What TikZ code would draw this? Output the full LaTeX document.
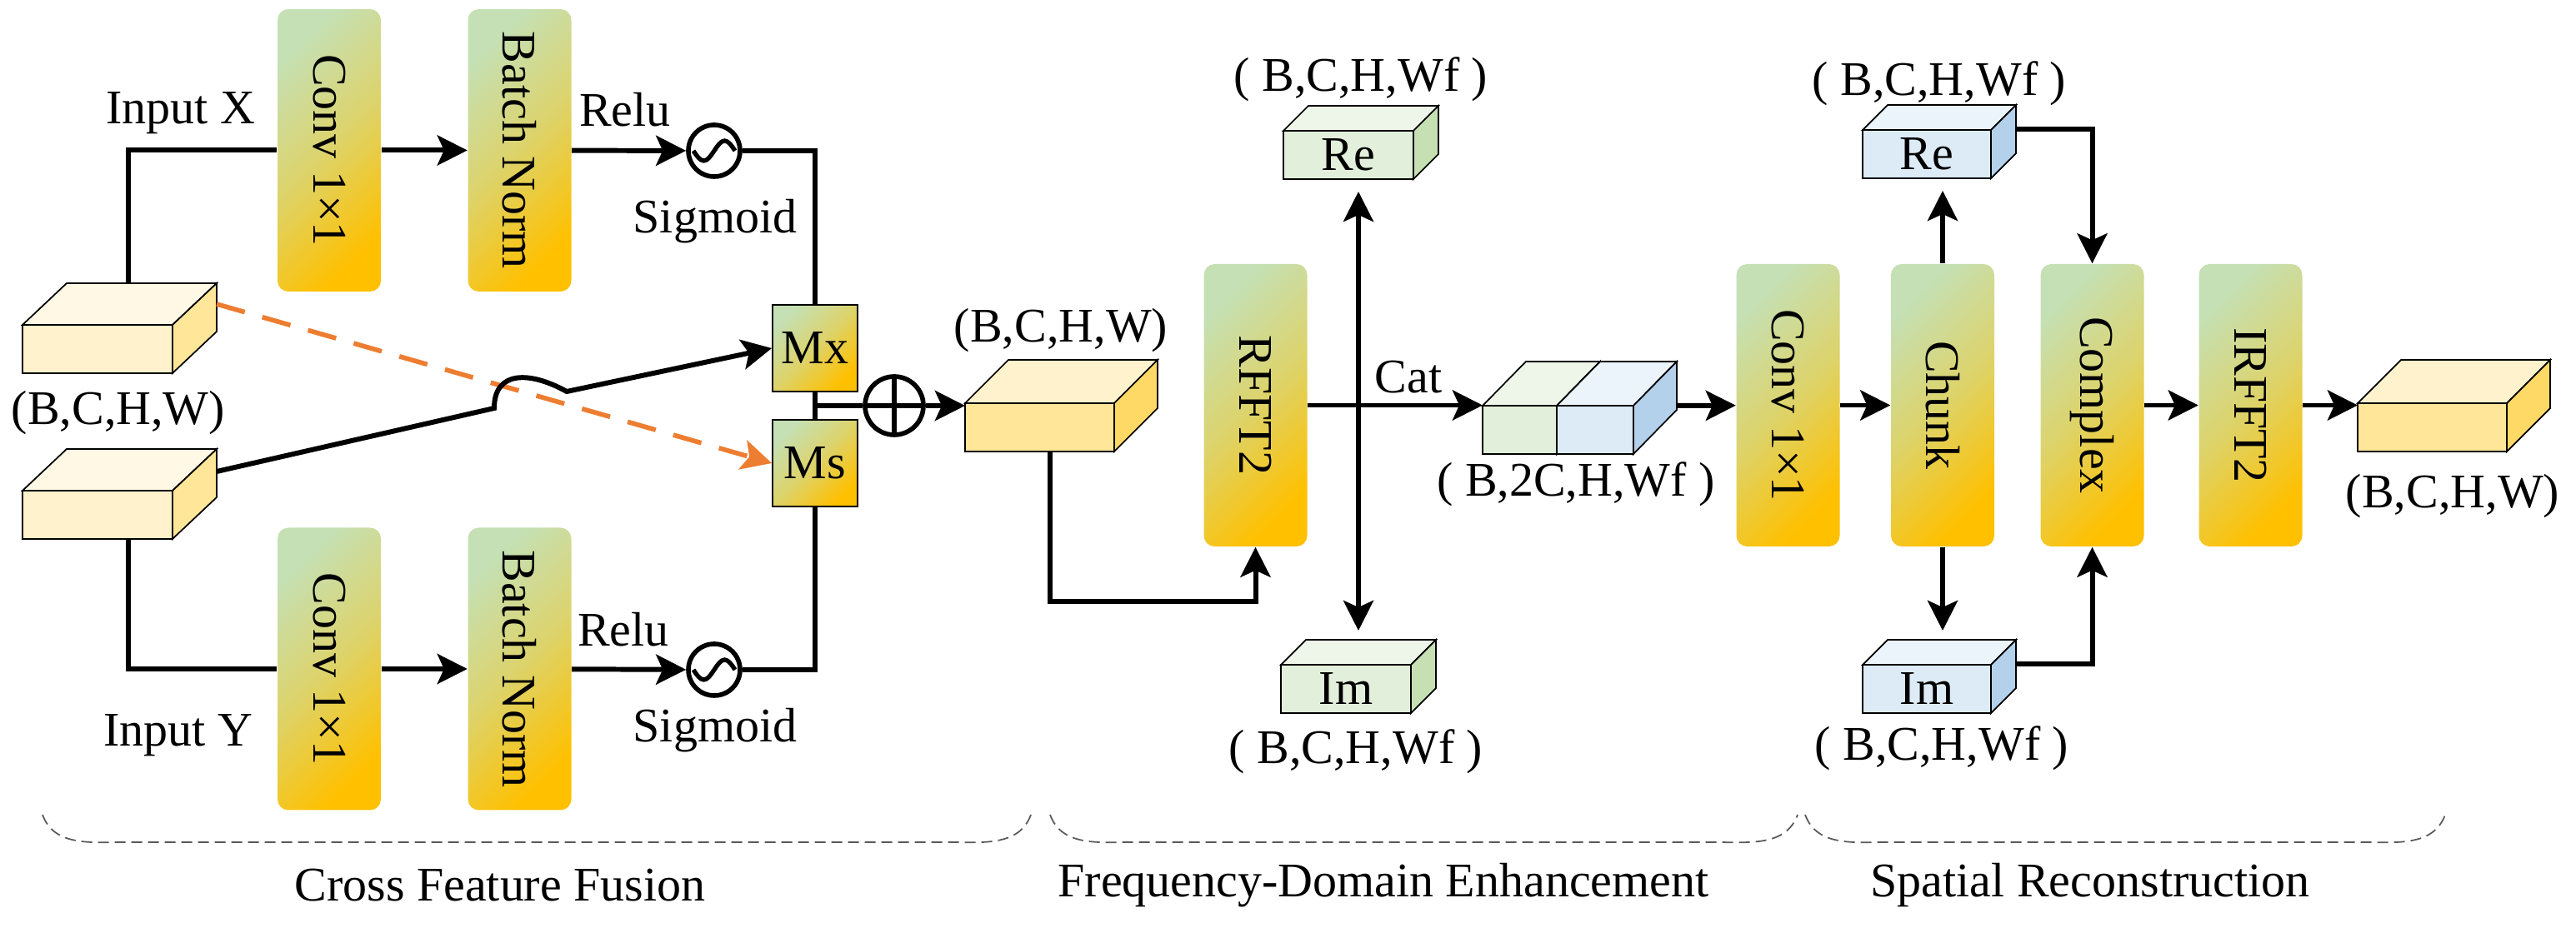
\documentclass[tikz,border=0pt]{standalone}
\usepackage{fontspec}
\setmainfont{Liberation Serif}
\usepackage{graphicx}
\usetikzlibrary{arrows.meta,calc}

\definecolor{gradA}{RGB}{197,224,180}
\definecolor{gradB}{RGB}{221,211,106}
\definecolor{gradC}{RGB}{255,192,0}
\definecolor{skipor}{RGB}{237,125,49}
\definecolor{ylwF}{RGB}{255,230,153}
\definecolor{ylwT}{RGB}{255,242,204}
\definecolor{ylwS}{RGB}{255,217,102}
\definecolor{crmF}{RGB}{255,242,204}
\definecolor{crmT}{RGB}{255,248,229}
\definecolor{crmS}{RGB}{255,230,153}
\definecolor{grnF}{RGB}{226,239,218}
\definecolor{grnT}{RGB}{238,246,234}
\definecolor{grnS}{RGB}{198,224,180}
\definecolor{bluF}{RGB}{221,235,247}
\definecolor{bluT}{RGB}{235,243,251}
\definecolor{bluS}{RGB}{180,209,236}

% top and side faces of a cube whose front face is node #1
\newcommand{\cubefaces}[4]{%
  \draw[cubeline, fill=#3] (#1.north west) -- ++(#2) -- ($(#1.north east)+(#2)$) -- (#1.north east) -- cycle;
  \draw[cubeline, fill=#4] (#1.north east) -- ++(#2) -- ($(#1.south east)+(#2)$) -- (#1.south east) -- cycle;
}

\begin{document}
\begin{tikzpicture}[>={Stealth[length=3.6mm,width=3.6mm,inset=0.8mm]},
    font=\fontsize{16.5}{19}\selectfont,
    line/.style={line width=1.7pt},
    cubeline/.style={line width=0.5pt, line join=miter},
    blk/.style={rounded corners=0.13cm, minimum width=1.24cm, minimum height=3.39cm, inner sep=0pt,
        top color=gradA, bottom color=gradC, middle color=gradB, shading angle=45},
    mbox/.style={draw, line width=0.5pt, minimum width=1.02cm, minimum height=1.04cm, inner sep=0pt,
        top color=gradA, bottom color=gradC, middle color=gradB, shading angle=45},
    cubefront/.style={draw, line width=0.5pt, inner sep=0pt, outer sep=0pt, minimum height=0.58cm},
    circ/.style={circle, draw, line width=1.6pt, minimum size=0.62cm, inner sep=0pt},
    skip/.style={skipor, line width=1.6pt, dash pattern=on 3.5mm off 2.2mm},
    brace/.style={gray!70!black, line width=0.5pt, dash pattern=on 1.3mm off 0.7mm}]
    \useasboundingbox (0,0) rectangle (30.91,11.20);

    % Cross Feature Fusion
    \node[cubefront, fill=crmF, minimum width=1.80cm] (inX) at (1.17,7.01) {};
    \cubefaces{inX}{0.53,0.50}{crmT}{crmS}
    \node[cubefront, fill=crmF, minimum width=1.80cm] (inY) at (1.17,5.02) {};
    \cubefaces{inY}{0.53,0.50}{crmT}{crmS}
    \node (shpIn) at (1.42,6.24) {(B,C,H,W)};
    \node (lblX) at (2.17,9.84) {Input X};
    \node (lblY) at (2.14,2.37) {Input Y};

    \node[blk] (convX) at (3.95,9.395) {\rotatebox{-90}{Conv 1×1}};
    \node[blk] (bnX) at (6.235,9.395) {\rotatebox{-90}{Batch Norm}};
    \node[blk] (convY) at (3.95,3.17) {\rotatebox{-90}{Conv 1×1}};
    \node[blk] (bnY) at (6.235,3.17) {\rotatebox{-90}{Batch Norm}};

    \node[circ] (sgX) at (8.57,9.39) {};
    \node[circ] (sgY) at (8.57,3.16) {};
    \foreach \s in {sgX,sgY}
        \draw[line width=1.5pt] ([xshift=-0.25cm]\s.center) sin ++(0.125,-0.12) cos ++(0.125,0.12)
            sin ++(0.125,0.12) cos ++(0.125,-0.12);
    \node (reluX) at (7.50,9.88) {Relu};
    \node (sigX) at (8.58,8.54) {Sigmoid};
    \node (reluY) at (7.48,3.64) {Relu};
    \node (sigY) at (8.58,2.43) {Sigmoid};

    \node[mbox] (mx) at (9.78,7.02) {Mx};
    \node[mbox] (ms) at (9.78,5.64) {Ms};
    \node[circ, minimum size=0.70cm] (op) at (10.73,6.33) {};
    \draw[line, shorten <=0.06cm, shorten >=0.06cm] (op.north) -- (op.south);
    \draw[line, shorten <=0.06cm, shorten >=0.06cm] (op.west) -- (op.east);

    \draw[line] ($(inX.north)+(0.37,0.50)$) |- (convX.west);
    \draw[line,->] (convX) -- (bnX);
    \draw[line,->] (bnX) -- (sgX);
    \draw[line] (sgX) -| (mx.north);
    \draw[line] ($(inY.south)+(0.37,0)$) |- (convY.west);
    \draw[line,->] (convY) -- (bnY);
    \draw[line,->] (bnY) -- (sgY);
    \draw[line] (sgY) -| (ms.south);

    \draw[skip,->] ($(inX.north east)+(0.53,0.25)$) -- (ms.west);
    \coordinate (hopA) at (5.93,6.30);
    \coordinate (hopB) at (6.80,6.50);
    \draw[line,->] ($(inY.north east)+(0.53,0.23)$) -- (hopA)
        .. controls (5.93,6.75) and (6.35,6.75) .. (hopB) -- (mx.west);
    \draw[line] (mx) -- (ms);
    \draw[line] (mx.south |- op) -- (op);

    % Frequency-Domain Enhancement
    \node[cubefront, fill=ylwF, minimum width=1.79cm] (midC) at (12.475,6.07) {};
    \cubefaces{midC}{0.52,0.52}{ylwT}{ylwS}
    \node (shpMid) at (12.73,7.23) {(B,C,H,W)};
    \draw[line,->] (op) -- (op -| midC.west);

    \node[blk] (rfft) at (15.065,6.335) {\rotatebox{-90}{RFFT2}};
    \draw[line,->] ($(midC.south)+(0.125,0)$) -- ++(0,-1.80) -| (rfft.south);

    \node[cubefront, fill=grnF, minimum width=1.56cm] (reA) at (16.18,9.34) {Re};
    \cubefaces{reA}{0.30,0.30}{grnT}{grnS}
    \node[cubefront, fill=grnF, minimum width=1.56cm] (imA) at (16.15,2.93) {Im};
    \cubefaces{imA}{0.30,0.30}{grnT}{grnS}
    \node (shpReA) at (16.33,10.25) {( B,C,H,Wf )};
    \node (shpImA) at (16.27,2.18) {( B,C,H,Wf )};

    \node[cubefront, fill=grnF, minimum width=0.89cm] (catG) at (18.235,6.04) {};
    \cubefaces{catG}{0.52,0.53}{grnT}{grnS}
    \node[cubefront, fill=bluF, minimum width=0.92cm] (catB) at (19.14,6.04) {};
    \cubefaces{catB}{0.52,0.53}{bluT}{bluS}
    \node (shpCat) at (18.91,5.39) {( B,2C,H,Wf )};
    \node (catL) at (16.90,6.67) {Cat};

    \coordinate (split) at (16.30,6.335);
    \draw[line,->] (rfft) -- (rfft -| catG.west);
    \draw[line,->,shorten >=0.15cm] (split) -- (split |- reA.south);
    \draw[line,->,shorten >=0.11cm] (split) -- ($(split |- imA.north)+(0,0.30)$);

    % Spatial Reconstruction
    \node[blk] (conv2) at (21.455,6.335) {\rotatebox{-90}{Conv 1×1}};
    \node[blk] (chunk) at (23.31,6.335) {\rotatebox{-90}{Chunk}};
    \node[blk] (cplx) at (25.105,6.335) {\rotatebox{-90}{Complex}};
    \node[blk] (irfft) at (27.005,6.335) {\rotatebox{-90}{IRFFT2}};
    \draw[line,->] ($(catB.east)+(0.52,0.29)$) -- (conv2);

    \node[cubefront, fill=bluF, minimum width=1.54cm] (reB) at (23.12,9.35) {Re};
    \cubefaces{reB}{0.30,0.30}{bluT}{bluS}
    \node[cubefront, fill=bluF, minimum width=1.54cm] (imB) at (23.12,2.93) {Im};
    \cubefaces{imB}{0.30,0.30}{bluT}{bluS}
    \node (shpReB) at (23.27,10.20) {( B,C,H,Wf )};
    \node (shpImB) at (23.30,2.22) {( B,C,H,Wf )};

    \draw[line,->] (conv2) -- (chunk);
    \draw[line,->,shorten >=0.15cm] (chunk.north) -- (chunk.north |- reB.south);
    \draw[line,->,shorten >=0.11cm] (chunk.south) -- ($(chunk.south |- imB.north)+(0,0.30)$);
    \draw[line,->] ($(reB.north east)+(0.30,0.01)$) -| (cplx.north);
    \draw[line,->] ($(imB.north east)+(0.30,0.01)$) -| (cplx.south);
    \draw[line,->] (cplx) -- (irfft);

    \node[cubefront, fill=ylwF, minimum width=1.79cm] (outC) at (29.185,6.07) {};
    \cubefaces{outC}{0.52,0.52}{ylwT}{ylwS}
    \node (shpOut) at (29.43,5.24) {(B,C,H,W)};
    \draw[line,->] (irfft) -- (irfft -| outC.west);

    % dashed brackets and captions
    \foreach \a/\b in {0.51/12.37, 12.60/21.57, 21.66/29.34}
        \draw[brace] (\a,1.42) to[out=-70,in=180] (\a+1.0,1.09) -- (\b-1.0,1.09) to[out=0,in=-110] (\b,1.42);
    \node (capA) at (6.00,0.57) {Cross Feature Fusion};
    \node (capB) at (16.60,0.57) {Frequency-Domain Enhancement};
    \node (capC) at (25.08,0.57) {Spatial Reconstruction};
\end{tikzpicture}
\end{document}
